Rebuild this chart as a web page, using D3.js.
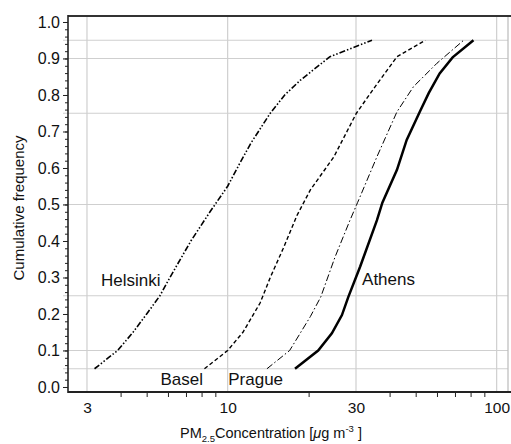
<!DOCTYPE html>
<html>
<head>
<meta charset="utf-8">
<script src="https://cdn.jsdelivr.net/npm/d3@7"></script>
<style>
  body { margin: 0; background: #fff; }
  svg { display: block; font-family: "Liberation Sans", Arial, sans-serif; }
  .grid { stroke: #cfcfcf; stroke-width: 1.2; }
  .axis path, .axis line { stroke: #222; }
  .axis text { font-size: 16px; fill: #111; }
  .curve { fill: none; stroke: #000; }
</style>
</head>
<body>
<div id="chart"></div>
<script>
// --- Data ---
const cities = ["Helsinki", "Basel", "Prague", "Athens"];

const helsinki = [[3.2, 0.05], [3.9, 0.1], [4.45, 0.15], [5.0, 0.2], [5.6, 0.25], [6.1, 0.3], [7.3, 0.4],
  [8.6, 0.48], [10.0, 0.55], [11.1, 0.613], [12.2, 0.668], [14.4, 0.75], [16.3, 0.8], [18.6, 0.84],
  [24.0, 0.905], [29.3, 0.93], [34.4, 0.95]];
const basel = [[8.2, 0.05], [10.0, 0.1], [11.4, 0.15], [13.2, 0.23], [14.4, 0.3], [16.1, 0.38],
  [18.1, 0.47], [20.3, 0.54], [24.8, 0.63], [30.1, 0.75], [35.9, 0.83], [42.6, 0.905], [54.3, 0.95]];
const prague = [[14.0, 0.05], [17.0, 0.1], [18.6, 0.147], [20.3, 0.193], [22.2, 0.247], [25.1, 0.357],
  [28.5, 0.457], [30.4, 0.505], [35.9, 0.631], [42.6, 0.754], [49.1, 0.823], [60.0, 0.887], [75.4, 0.95]];
const athens = [[17.8, 0.05], [21.7, 0.1], [24.4, 0.147], [26.6, 0.197], [28.1, 0.247], [31.1, 0.33],
  [35.9, 0.457], [37.6, 0.505], [42.6, 0.595], [46.3, 0.677], [51.8, 0.754], [55.9, 0.805],
  [61.4, 0.859], [68.6, 0.903], [82.0, 0.95]];

const xTickLabels = [3, 10, 30, 100];
const xMinorTicks = [4, 5, 6, 7, 8, 9, 20, 40, 50, 60, 70, 80, 90];
const yTickLabels = [0, 0.1, 0.2, 0.3, 0.4, 0.5, 0.6, 0.7, 0.8, 0.9, 1.0];
const yGridLines = [0.05, 0.1, 0.25, 0.5, 0.75, 0.9, 0.95];
// label anchors: [x value, y value]
const labelPos = [[3.38, 0.277], [5.63, 0.005], [10.05, 0.005], [31.6, 0.28]];

// --- Layout ---
const width = 511, height = 444;
const mLeft = 68, mRight = 508, mTop = 16, mBottom = 392;

const svg = d3.select("#chart").append("svg").attr("width", width).attr("height", height);

const x = d3.scaleLog().domain([2.55, 110.2]).range([mLeft, mRight]);
const y = d3.scaleLinear().domain([-0.0137, 1.0164]).range([mBottom, mTop]);

// grid
svg.append("g").selectAll("line").data(yGridLines).join("line").attr("class", "grid")
  .attr("x1", mLeft - 5).attr("x2", mRight).attr("y1", d => y(d)).attr("y2", d => y(d));
svg.append("g").selectAll("line").data(xTickLabels).join("line").attr("class", "grid")
  .attr("x1", d => x(d)).attr("x2", d => x(d)).attr("y1", mTop).attr("y2", mBottom);
svg.append("line").attr("x1", mRight).attr("x2", mRight).attr("y1", mTop).attr("y2", mBottom)
  .attr("stroke", "#bbb").attr("stroke-width", 1.2);

// axes
const yAxis = svg.append("g").attr("class", "axis").attr("transform", `translate(${mLeft},0)`)
  .call(d3.axisLeft(y).tickValues(yTickLabels).tickFormat(d3.format(".1f")).tickSize(5).tickSizeOuter(0).tickPadding(3));
yAxis.select(".domain").remove();
svg.append("g").attr("class", "axis").attr("transform", `translate(${mLeft},0)`)
  .call(d3.axisLeft(y).tickValues(d3.range(0, 1.001, 0.02)).tickFormat("").tickSize(3).tickSizeOuter(0))
  .select(".domain").remove();

const xAxis = svg.append("g").attr("class", "axis").attr("transform", `translate(0,${mBottom})`)
  .call(d3.axisBottom(x).tickValues(xTickLabels).tickFormat(d3.format("d")).tickSize(0).tickPadding(10));
xAxis.select(".domain").remove();
xAxis.selectAll("text").style("font-size", "15.5px");
svg.append("g").attr("class", "axis").attr("transform", `translate(0,${mBottom})`)
  .call(d3.axisBottom(x).tickValues(xMinorTicks).tickFormat("").tickSize(5))
  .select(".domain").remove();

// frame
svg.append("line").attr("x1", mLeft).attr("x2", width).attr("y1", mTop).attr("y2", mTop)
  .attr("stroke", "#333").attr("stroke-width", 2);
svg.append("line").attr("x1", mLeft).attr("x2", width).attr("y1", mBottom).attr("y2", mBottom)
  .attr("stroke", "#222").attr("stroke-width", 2);
svg.append("line").attr("x1", mLeft).attr("x2", mLeft).attr("y1", mTop - 1).attr("y2", mBottom + 1)
  .attr("stroke", "#222").attr("stroke-width", 1.6);

// curves
const line = d3.line().x(d => x(d[0])).y(d => y(d[1]));
const series = [
  { data: helsinki, dash: "6,2,1.5,2,1.5,2", w: 1.6 },
  { data: basel, dash: "4,2.5", w: 1.4 },
  { data: prague, dash: "7,2.5,1.5,2.5", w: 1 },
  { data: athens, dash: null, w: 2.5 }
];
svg.append("g").selectAll("path").data(series).join("path").attr("class", "curve")
  .attr("d", d => line(d.data))
  .attr("stroke-width", d => d.w)
  .attr("stroke-dasharray", d => d.dash);

// city labels
svg.append("g").selectAll("text").data(cities).join("text")
  .attr("x", (d, i) => x(labelPos[i][0])).attr("y", (d, i) => y(labelPos[i][1]))
  .style("font-size", "17px").attr("fill", "#111").text(d => d);

// axis titles
svg.append("text").attr("transform", "translate(24,208) rotate(-90)").attr("text-anchor", "middle")
  .style("font-size", "15px").attr("fill", "#111").text("Cumulative frequency");

const xt = svg.append("text").attr("x", 180).attr("y", 438).style("font-size", "14.5px").attr("fill", "#111");
xt.append("tspan").text("PM");
xt.append("tspan").attr("dy", 4).style("font-size", "9.5px").text("2.5");
xt.append("tspan").attr("dy", -4).text("Concentration [");
xt.append("tspan").style("font-style", "italic").text("μ");
xt.append("tspan").text("g m");
xt.append("tspan").attr("dy", -6).style("font-size", "9.5px").text("-3");
xt.append("tspan").attr("dy", 6).text(" ]");
</script>
</body>
</html>
